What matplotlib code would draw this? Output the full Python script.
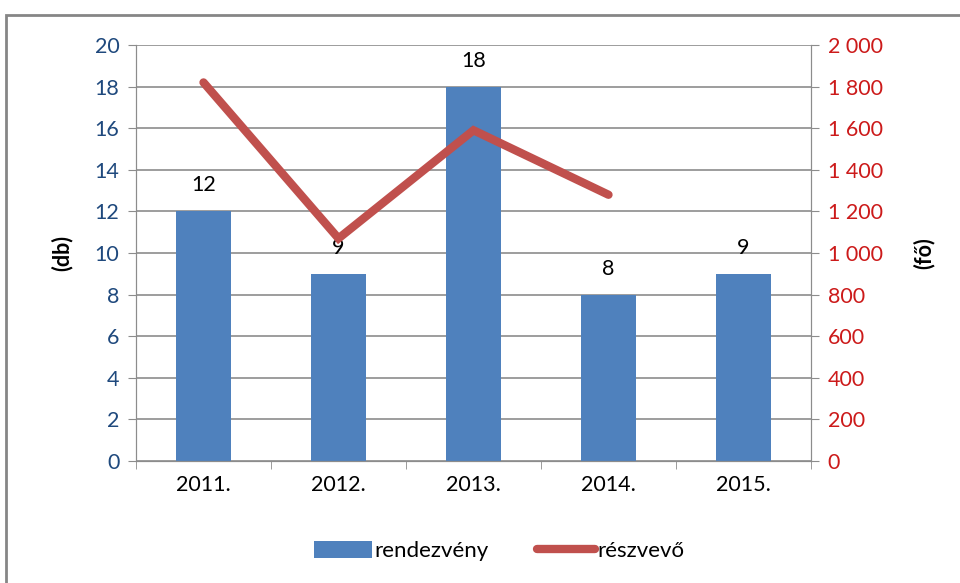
import matplotlib
matplotlib.use('Agg')
from matplotlib import pyplot as plt
from matplotlib.patches import Rectangle
from matplotlib.ticker import FuncFormatter

plt.rcParams['font.family'] = ['Lato', 'DejaVu Sans']

years = ['2011.', '2012.', '2013.', '2014.', '2015.']
events = [12, 9, 18, 8, 9]
participants = [1820, 1070, 1590, 1280]

bar_color = '#4F81BD'
line_color = '#C0504D'
grid_color = '#8C8C8C'
fs = 15.5

fig = plt.figure(figsize=(9.6, 5.83), dpi=100)
# outer chart border
fig.patches.append(Rectangle((6 / 960, -0.05), 1.1, 1 - 15 / 583 + 0.05,
                             transform=fig.transFigure, fill=False,
                             edgecolor='#868686', linewidth=2))

ax1 = fig.add_axes([136 / 960, 1 - 461 / 583, 675 / 960, 416 / 583])
x = list(range(len(years)))
ax1.bar(x, events, width=0.41, color=bar_color, label='rendezvény', zorder=2)
for xi, v in zip(x, events):
    ax1.text(xi, v + 1.25, str(v), ha='center', va='center', fontsize=fs, color='black', zorder=5)

ax1.set_xlim(-0.5, len(years) - 0.5)
ax1.set_ylim(0, 20)
ax1.set_yticks(range(0, 21, 2))
ax1.set_xticks(x)
ax1.set_xticklabels(years, fontsize=fs)
ax1.set_xticks([i - 0.5 for i in range(len(years) + 1)], minor=True)
ax1.tick_params(axis='x', which='major', length=0, pad=10)
ax1.tick_params(axis='x', which='minor', length=6, color=grid_color, direction='out')
ax1.tick_params(axis='y', length=6, color=grid_color, labelsize=fs, labelcolor='#1F497D', pad=6)
ax1.yaxis.grid(True, color=grid_color, linewidth=1.2, zorder=0)
ax1.set_axisbelow(True)
for s in ax1.spines.values():
    s.set_color(grid_color)
ax1.spines['top'].set_visible(False)
ax1.set_ylabel('(db)', fontsize=fs, fontweight='bold', labelpad=16)

ax2 = ax1.twinx()
ax2.plot(x[:len(participants)], participants, color=line_color, linewidth=6,
         solid_capstyle='round', solid_joinstyle='miter', label='részvevő', zorder=4)
ax2.set_ylim(0, 2000)
ax2.set_yticks(range(0, 2001, 200))
ax2.yaxis.set_major_formatter(FuncFormatter(lambda v, p: f'{int(v):,}'.replace(',', ' ')))
ax2.tick_params(axis='y', length=6, color=grid_color, labelsize=fs, labelcolor='#CC1A1A', pad=6)
for s in ax2.spines.values():
    s.set_color(grid_color)
ax2.spines['top'].set_visible(False)
ax2.set_ylabel('(fő)', fontsize=fs, fontweight='bold', labelpad=22)

h1, l1 = ax1.get_legend_handles_labels()
h2, l2 = ax2.get_legend_handles_labels()
fig.legend(h1 + h2, l1 + l2, loc='center', bbox_to_anchor=(0.52, 1 - 551 / 583),
           ncol=2, frameon=False, fontsize=16, handlelength=2.6, handleheight=0.8,
           handletextpad=0.1, columnspacing=2.2)

fig.savefig('out.png', dpi=100)
